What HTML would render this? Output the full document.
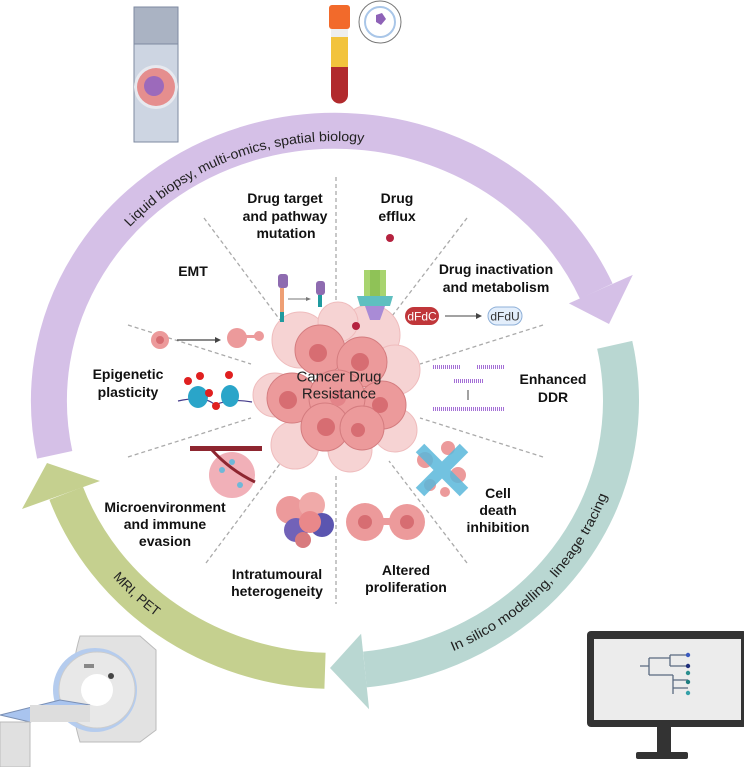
<!DOCTYPE html>
<html><head><meta charset="utf-8"><style>
html,body{margin:0;padding:0;background:#fff;}
svg{display:block;}
text{font-family:"Liberation Sans",Arial,sans-serif;}
.b{font-weight:bold;font-size:14px;fill:#111;text-anchor:middle;dominant-baseline:central;}
</style></head><body>
<svg width="744" height="767" viewBox="0 0 744 767" xmlns="http://www.w3.org/2000/svg">
<defs>
<path id="tp" d="M126.2,223.7 A281,265 0 0 1 475.5,171.5"/>
<path id="tt" d="M453.4,652.2 A291,275 0 0 0 621.6,448.7"/>
<path id="tg" d="M112.1,577.8 A291,275 0 0 0 235.5,659.5"/>
</defs>
<!-- arcs -->
<path d="M54.7,454.8 A286,270 0 0 1 596.3,291.2" fill="none" stroke="#d5c0e7" stroke-width="36"/>
<polygon points="632.8,274.9 568.9,303.4 609,324" fill="#d5c0e7"/>
<path d="M614.7,344.8 A286,270 0 0 1 364.9,669.5" fill="none" stroke="#b9d7d2" stroke-width="36"/>
<polygon points="369.1,709.3 361.1,633.7 330,668" fill="#b9d7d2"/>
<path d="M325,670.8 A286,270 0 0 1 66.2,493.3" fill="none" stroke="#c5d08f" stroke-width="36"/>
<polygon points="22,509 100,481 47,463" fill="#c5d08f"/>
<text font-size="13.5" fill="#222" dy="5"><textPath href="#tp" textLength="262" lengthAdjust="spacingAndGlyphs">Liquid biopsy, multi-omics, spatial biology</textPath></text>
<text font-size="13.5" fill="#222" dy="-1"><textPath href="#tt" textLength="226" lengthAdjust="spacingAndGlyphs">In silico modelling, lineage tracing</textPath></text>
<text font-size="13.5" fill="#222" dy="-1"><textPath href="#tg">MRI, PET</textPath></text>

<!-- dashed lines -->
<g stroke="#aaa" stroke-width="1.3" stroke-dasharray="4,3" fill="none">
<line x1="336" y1="177" x2="336" y2="311"/><line x1="336" y1="476" x2="336" y2="604"/>
<line x1="204" y1="218" x2="280" y2="320"/><line x1="467" y1="218" x2="389" y2="320"/>
<line x1="128" y1="325" x2="251" y2="364"/><line x1="543" y1="325" x2="420" y2="364"/>
<line x1="128" y1="457" x2="251" y2="418"/><line x1="543" y1="457" x2="420" y2="418"/>
<line x1="206" y1="563" x2="282" y2="461"/><line x1="467" y1="563" x2="389" y2="461"/>
</g>

<!-- center cells -->
<g>
<g fill="#f6d3d3" stroke="#efbcbd">
<circle cx="300" cy="340" r="28"/><circle cx="370" cy="335" r="30"/><circle cx="395" cy="370" r="25"/><circle cx="395" cy="430" r="22"/>
<circle cx="350" cy="450" r="22"/><circle cx="295" cy="445" r="24"/><circle cx="275" cy="395" r="22"/><circle cx="338" cy="322" r="20"/>
</g>
<g fill="#ec9a9b" stroke="#d47c7f" stroke-width="1">
<circle cx="320" cy="350" r="25"/><circle cx="362" cy="362" r="25"/><circle cx="292" cy="398" r="25"/>
<circle cx="382" cy="405" r="24"/><circle cx="337" cy="398" r="28"/><circle cx="325" cy="427" r="24"/><circle cx="362" cy="428" r="22"/>
</g>
<g fill="#d76d72">
<circle cx="318" cy="353" r="9"/><circle cx="360" cy="362" r="9"/><circle cx="288" cy="400" r="9"/><circle cx="380" cy="405" r="8"/><circle cx="326" cy="427" r="9"/><circle cx="358" cy="430" r="7"/><circle cx="338" cy="398" r="8" fill="#e38489"/>
</g>
</g>
<text x="339" y="377" font-size="15" fill="#222" text-anchor="middle" dominant-baseline="central">Cancer Drug</text>
<text x="339" y="394" font-size="15" fill="#222" text-anchor="middle" dominant-baseline="central">Resistance</text>

<!-- labels -->
<text class="b" x="285" y="198">Drug target</text><text class="b" x="285" y="216">and pathway</text><text class="b" x="286" y="233">mutation</text>
<text class="b" x="397" y="198">Drug</text><text class="b" x="397" y="216">efflux</text>
<text class="b" x="193" y="271">EMT</text>
<text class="b" x="496" y="269">Drug inactivation</text><text class="b" x="496" y="287">and metabolism</text>
<text class="b" x="128" y="374">Epigenetic</text><text class="b" x="128" y="392">plasticity</text>
<text class="b" x="553" y="379">Enhanced</text><text class="b" x="553" y="397">DDR</text>
<text class="b" x="165" y="507">Microenvironment</text><text class="b" x="165" y="524">and immune</text><text class="b" x="165" y="541">evasion</text>
<text class="b" x="498" y="493">Cell</text><text class="b" x="498" y="510">death</text><text class="b" x="498" y="527">inhibition</text>
<text class="b" x="277" y="574">Intratumoural</text><text class="b" x="277" y="591">heterogeneity</text>
<text class="b" x="406" y="570">Altered</text><text class="b" x="406" y="587">proliferation</text>

<!-- EMT icon -->
<circle cx="160" cy="340" r="9" fill="#ec9a9b"/><circle cx="160" cy="340" r="4" fill="#d76d72"/>
<line x1="177" y1="340" x2="216" y2="340" stroke="#444" stroke-width="1.3"/><polygon points="221,340 215,337 215,343" fill="#444"/>
<circle cx="237" cy="338" r="10" fill="#ec9a9b"/><circle cx="259" cy="336" r="5" fill="#ec9a9b"/><rect x="244" y="335" width="12" height="3" fill="#ec9a9b"/>
<!-- drug target icon -->
<rect x="278" y="274" width="10" height="14" rx="3" fill="#8e6bb0"/><rect x="280" y="288" width="4" height="24" fill="#ee9f74"/><rect x="280" y="312" width="4" height="10" fill="#1f9a9f"/>
<line x1="288" y1="299" x2="307" y2="299" stroke="#777"/><polygon points="311,299 306,297 306,301" fill="#777"/>
<rect x="316" y="281" width="9" height="14" rx="3" fill="#8e6bb0"/><rect x="318" y="295" width="4" height="12" fill="#1f9a9f"/>
<!-- efflux -->
<rect x="364" y="270" width="22" height="32" fill="#a8d46f"/><rect x="370" y="270" width="10" height="32" fill="#8fc257"/>
<polygon points="357,296 393,296 390,306 360,306" fill="#5fbfc0"/>
<polygon points="365,306 385,306 380,320 370,320" fill="#a98bd6"/>
<circle cx="390" cy="238" r="4" fill="#b5223f"/><circle cx="356" cy="326" r="4" fill="#b5223f"/>
<!-- dFdC -->
<rect x="405" y="307" width="34" height="18" rx="9" fill="#c0363a"/><text x="422" y="316.5" font-size="12" fill="#fff" text-anchor="middle" dominant-baseline="central">dFdC</text>
<line x1="445" y1="316" x2="478" y2="316" stroke="#444"/><polygon points="482,316 476,313 476,319" fill="#444"/>
<rect x="488" y="307" width="34" height="18" rx="9" fill="#e3eefb" stroke="#8fb0d8"/><text x="505" y="316.5" font-size="12" fill="#333" text-anchor="middle" dominant-baseline="central">dFdU</text>
<!-- DDR -->
<g stroke="#a46fd6" stroke-width="4" stroke-dasharray="1,1">
<line x1="433" y1="367" x2="460" y2="367"/><line x1="477" y1="367" x2="504" y2="367"/><line x1="454" y1="381" x2="483" y2="381"/><line x1="433" y1="409" x2="504" y2="409"/></g>
<line x1="468" y1="390" x2="468" y2="400" stroke="#444"/>
<!-- epigenetic -->
<path d="M178,401 Q205,395 215,405 Q230,398 252,402" stroke="#443a8a" fill="none" stroke-width="1.2"/>
<ellipse cx="198" cy="397" rx="10" ry="11" fill="#2aa5c9"/><ellipse cx="230" cy="396" rx="9" ry="11" fill="#2aa5c9"/>
<g fill="#e02020"><circle cx="188" cy="381" r="4"/><circle cx="200" cy="376" r="4"/><circle cx="209" cy="393" r="4"/><circle cx="229" cy="375" r="4"/><circle cx="216" cy="406" r="4"/></g>
<!-- microenvironment -->
<rect x="190" y="446" width="72" height="5" fill="#8e2630"/>
<circle cx="232" cy="475" r="23" fill="#f1b0b8"/><path d="M212,450 Q230,470 255,482" stroke="#8e2630" stroke-width="3" fill="none"/>
<g fill="#6fb8d8"><circle cx="222" cy="470" r="3"/><circle cx="240" cy="485" r="3"/><circle cx="232" cy="462" r="3"/></g>
<!-- intratumoural -->
<circle cx="290" cy="510" r="14" fill="#ec9a9b"/><circle cx="312" cy="505" r="13" fill="#f0aaa9"/><circle cx="322" cy="525" r="12" fill="#5b55b0"/><circle cx="296" cy="530" r="12" fill="#7262b8"/><circle cx="310" cy="522" r="11" fill="#e9888a"/><circle cx="303" cy="540" r="8" fill="#d87a7e"/>
<!-- altered proliferation -->
<circle cx="365" cy="522" r="19" fill="#ec9a9b"/><circle cx="407" cy="522" r="18" fill="#ec9a9b"/><rect x="380" y="518" width="14" height="7" fill="#ec9a9b"/>
<circle cx="365" cy="522" r="7" fill="#d76d72"/><circle cx="407" cy="522" r="7" fill="#d76d72"/>
<!-- cell death -->
<g fill="#ec9a9b"><circle cx="425" cy="460" r="8"/><circle cx="448" cy="448" r="7"/><circle cx="458" cy="475" r="8"/><circle cx="430" cy="485" r="6"/><circle cx="445" cy="492" r="5"/></g>
<g stroke="#5ab8db" stroke-width="12" opacity="0.85"><line x1="420" y1="448" x2="464" y2="492"/><line x1="464" y1="448" x2="420" y2="492"/></g>

<!-- slide -->
<rect x="134" y="7" width="44" height="135" fill="#cdd5e2" stroke="#7e8aa0"/><rect x="134" y="7" width="44" height="37" fill="#aab3c3" stroke="#7e8aa0"/>
<circle cx="156" cy="87" r="22" fill="#e7e9ef"/><circle cx="156" cy="87" r="19" fill="#e58e8e"/><circle cx="154" cy="86" r="10" fill="#8a62c7" opacity="0.8"/>
<!-- tube -->
<rect x="329" y="5" width="21" height="24" rx="3" fill="#f26a2b"/><rect x="331" y="29" width="17" height="8" fill="#eee"/>
<rect x="331" y="37" width="17" height="30" fill="#f2c33c"/><path d="M331,67 H348 V95 A8.5,8.5 0 0 1 331,95 Z" fill="#b12a2d"/>
<circle cx="380" cy="22" r="21" fill="#fff" stroke="#777"/><circle cx="380" cy="22" r="15" fill="none" stroke="#a9c6e8" stroke-width="2"/>
<path d="M376,15 l6,-2 l4,6 l-5,6 l-5,-3z" fill="#8e62b7"/>

<!-- MRI -->
<path d="M80,636 L140,636 L156,650 L156,730 L140,742 L80,742 Q64,690 80,636Z" fill="#e2e2e2" stroke="#bbb"/>
<circle cx="95" cy="690" r="42" fill="#b5ccee"/><circle cx="97" cy="690" r="38" fill="#e8e8e8" stroke="#ccc"/><circle cx="97" cy="690" r="16" fill="#fff"/>
<rect x="84" y="664" width="10" height="4" fill="#888"/><circle cx="111" cy="676" r="3" fill="#444"/>
<polygon points="0,715 60,700 90,705 30,722" fill="#a9c4ef" stroke="#7a8fb3"/>
<rect x="0" y="722" width="30" height="45" fill="#e0e0e0" stroke="#bbb"/><rect x="30" y="705" width="60" height="17" fill="#ddd"/>

<!-- monitor -->
<rect x="587" y="631" width="160" height="96" rx="4" fill="#333"/><rect x="594" y="639" width="147" height="81" fill="#ececec"/>
<rect x="657" y="727" width="14" height="25" fill="#333"/><rect x="636" y="752" width="52" height="7" rx="2" fill="#333"/>
<g stroke="#5a6a80" stroke-width="1.3" fill="none">
<path d="M640,666 H649 M649,658 V675 M649,658 H670 M670,655 V666 M670,655 H688 M670,666 H688 M649,675 H673 M673,675 V694 M673,680 H688 M673,688 H688"/></g>
<g><circle cx="688" cy="655" r="2.2" fill="#3b5bbf"/><circle cx="688" cy="666" r="2.2" fill="#1f2e7a"/><circle cx="688" cy="673" r="2.2" fill="#2b8e8e"/><circle cx="688" cy="682" r="2.2" fill="#1e7e80"/><circle cx="688" cy="693" r="2.2" fill="#35a0a8"/></g>
</svg>
</body></html>
